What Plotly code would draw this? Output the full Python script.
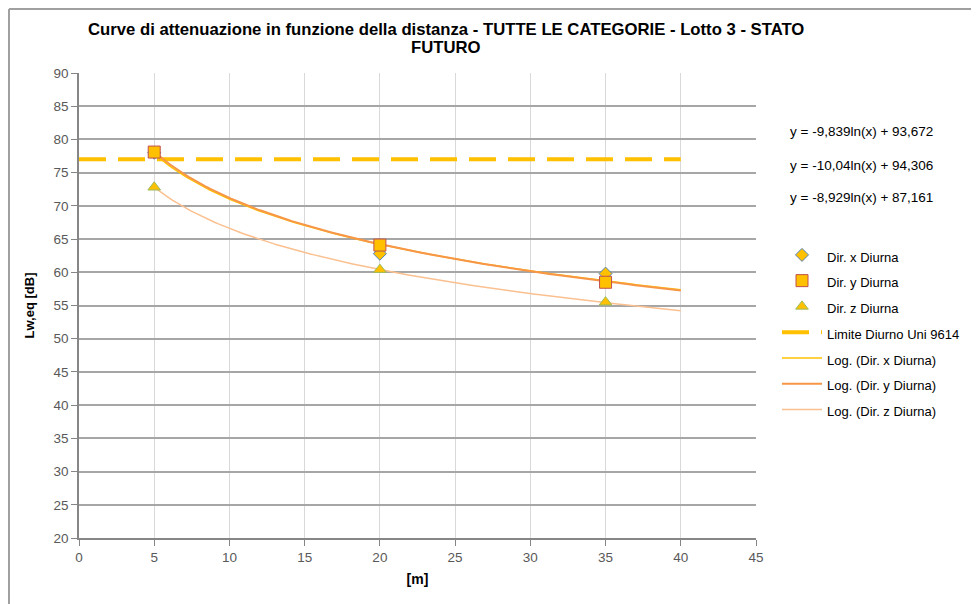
import numpy as np
import plotly.graph_objects as go

# ---- data ----
distances = [5, 20, 35]
dir_x = [78.0, 62.8, 59.8]
dir_y = [78.1, 64.1, 58.5]
dir_z = [72.8, 60.4, 55.5]
limit_x = [0, 40]
limit_y = [77, 77]
trend_range = [5, 40]
coef_x = (-9.839, 93.672)
coef_y = (-10.04, 94.306)
coef_z = (-8.929, 87.161)
eq_labels = ["y = -9,839ln(x) + 93,672", "y = -10,04ln(x) + 94,306", "y = -8,929ln(x) + 87,161"]
title_lines = ["Curve di attenuazione in funzione della distanza - TUTTE LE CATEGORIE - Lotto 3 - STATO", "FUTURO"]

tx = np.linspace(trend_range[0], trend_range[1], 200)


def trend(c):
    return c[0] * np.log(tx) + c[1]


def lname(s):
    return "<span style='font-size:13px'>" + s + "</span>"


fig = go.Figure()
fig.add_trace(go.Scatter(x=limit_x, y=limit_y, mode="lines", name=lname("Limite Diurno Uni 9614"), legendrank=4,
                         line=dict(color="#FFC000", width=4, dash="27px,12px")))
fig.add_trace(go.Scatter(x=tx, y=trend(coef_x), mode="lines", name=lname("Log. (Dir. x Diurna)"), legendrank=5,
                         line=dict(color="#FFC000", width=1.5)))
fig.add_trace(go.Scatter(x=tx, y=trend(coef_y), mode="lines", name=lname("Log. (Dir. y Diurna)"), legendrank=6,
                         line=dict(color="#F79646", width=2)))
fig.add_trace(go.Scatter(x=tx, y=trend(coef_z), mode="lines", name=lname("Log. (Dir. z Diurna)"), legendrank=7,
                         line=dict(color="#FAC090", width=1.5)))
fig.add_trace(go.Scatter(x=distances, y=dir_x, mode="markers", name=lname("Dir. x Diurna"), legendrank=1,
                         marker=dict(symbol="diamond", size=10, color="#FFC000",
                                     line=dict(color="#4F81BD", width=1))))
fig.add_trace(go.Scatter(x=distances, y=dir_y, mode="markers", name=lname("Dir. y Diurna"), legendrank=2,
                         marker=dict(symbol="square", size=12, color="#FFC000",
                                     line=dict(color="#C0504D", width=1))))
fig.add_trace(go.Scatter(x=distances, y=dir_z, mode="markers", name=lname("Dir. z Diurna"), legendrank=3,
                         marker=dict(symbol="triangle-up", size=11, color="#FFC000",
                                     line=dict(color="#9BBB59", width=1))))

font_family = "Liberation Sans, Arial, sans-serif"
OFF = 8  # page body margin
FW, FH = 979 - OFF, 604 - OFF
L, T, W, H = 79 - OFF, 73 - OFF, 677, 465


def px_x(p):  # page px -> paper
    return (p - OFF - L) / W


def px_y(p):
    return (T + H - (p - OFF)) / H


fig.update_layout(
    width=FW, height=FH,
    margin=dict(l=L, r=FW - L - W, t=T, b=FH - T - H, autoexpand=False),
    paper_bgcolor="white", plot_bgcolor="white",
    font=dict(family=font_family, size=13.5, color="#595959"),
    xaxis=dict(range=[0, 45], dtick=5, tick0=0, showgrid=True, gridcolor="#D9D9D9", gridwidth=1,
               showline=True, linecolor="#868686", linewidth=1.5, ticks="outside", ticklen=6,
               tickcolor="#868686", zeroline=False, automargin=False,
               title=dict(text="<b>[m]</b>", font=dict(size=14, color="#000000"), standoff=10)),
    yaxis=dict(range=[20, 90], dtick=5, tick0=20, showgrid=True, gridcolor="#A6A6A6", gridwidth=1.5,
               showline=True, linecolor="#868686", linewidth=1.5, ticks="outside", ticklen=6,
               tickcolor="#868686", zeroline=False, automargin=False,
               title=dict(text="<b>Lw,eq [dB]</b>", font=dict(size=13, color="#000000"), standoff=16)),
    legend=dict(x=px_x(777), y=px_y(237), xanchor="left", yanchor="top", bgcolor="rgba(0,0,0,0)",
                font=dict(size=17.5, color="#000000"), tracegroupgap=0, itemwidth=40,
                traceorder="normal"),
    showlegend=True,
)

for txt, yy in zip(title_lines, [30, 47]):
    fig.add_annotation(text="<b>" + txt + "</b>", xref="paper", yref="paper", x=px_x(446), y=px_y(yy),
                       xanchor="center", yanchor="middle", showarrow=False,
                       font=dict(size=16.7, color="#000000", family=font_family))

for txt, yy in zip(eq_labels, [131, 165, 197]):
    fig.add_annotation(text=txt, xref="paper", yref="paper", x=px_x(861), y=px_y(yy),
                       xanchor="center", yanchor="middle", showarrow=False,
                       font=dict(size=13.5, color="#000000", family=font_family))

# outer chart frame (top and left edges)
fig.add_shape(type="line", xref="paper", yref="paper", x0=px_x(OFF + 1), x1=px_x(979),
              y0=px_y(OFF + 1), y1=px_y(OFF + 1), line=dict(color="#A0A0A0", width=2))
fig.add_shape(type="line", xref="paper", yref="paper", x0=px_x(OFF + 1), x1=px_x(OFF + 1),
              y0=px_y(OFF + 1), y1=px_y(604), line=dict(color="#A0A0A0", width=2))

fig.write_html("out.html")
